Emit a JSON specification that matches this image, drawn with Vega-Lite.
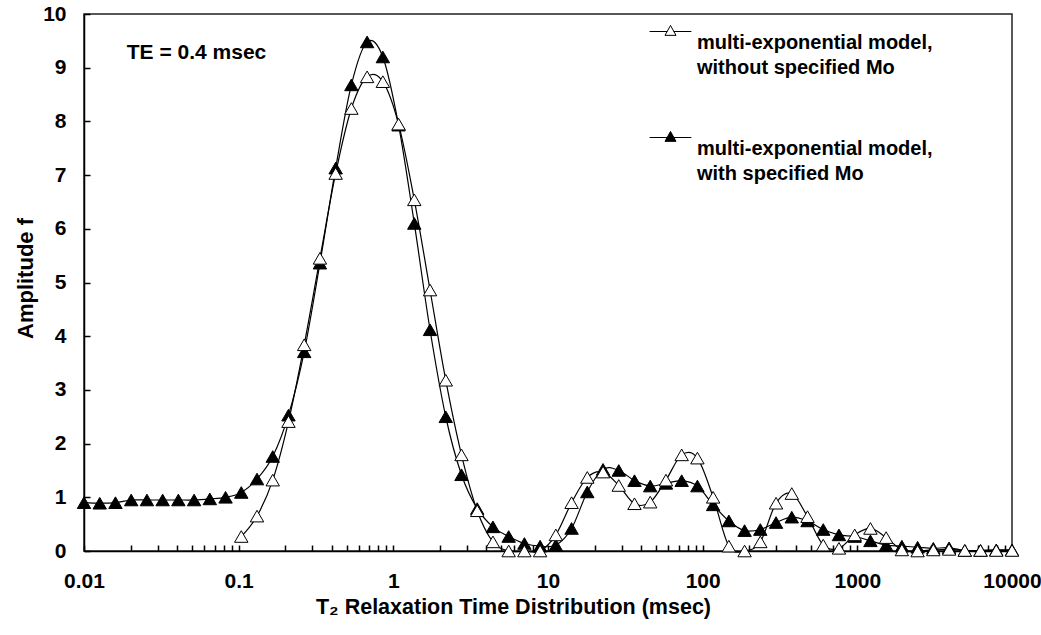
{
  "$schema": "https://vega.github.io/schema/vega-lite/v6.json",
  "width": 928,
  "height": 537,
  "autosize": {"type": "none"},
  "padding": {"left": 84, "top": 14, "right": 29, "bottom": 84},
  "background": "white",
  "config": {
    "font": "Liberation Sans",
    "view": {"stroke": "#222222", "strokeWidth": 1.5},
    "axis": {"domain": true, "domainColor": "black", "domainWidth": 1.5, "ticks": false, "tickSize": 0, "grid": true, "gridColor": "black", "gridWidth": 1.5, "gridOpacity": 1, "labelColor": "black", "labelFont": "Liberation Sans", "labelFontWeight": "bold", "labelFontSize": 21, "titleFont": "Liberation Sans", "titleFontWeight": "bold", "titleFontSize": 21, "titleColor": "black"},
    "style": {"guide-label": {"lineHeight": 25}}
  },
  "datasets": {
    "curves": [
      {"T2": 0.01, "f": 0.9, "s": "with specified Mo"},
      {"T2": 0.012638, "f": 0.89, "s": "with specified Mo"},
      {"T2": 0.015973, "f": 0.9, "s": "with specified Mo"},
      {"T2": 0.020187, "f": 0.95, "s": "with specified Mo"},
      {"T2": 0.025513, "f": 0.95, "s": "with specified Mo"},
      {"T2": 0.032245, "f": 0.95, "s": "with specified Mo"},
      {"T2": 0.040752, "f": 0.95, "s": "with specified Mo"},
      {"T2": 0.051504, "f": 0.95, "s": "with specified Mo"},
      {"T2": 0.065093, "f": 0.97, "s": "with specified Mo"},
      {"T2": 0.082267, "f": 1.0, "s": "with specified Mo"},
      {"T2": 0.10397, "f": 1.09, "s": "with specified Mo"},
      {"T2": 0.13141, "f": 1.34, "s": "with specified Mo"},
      {"T2": 0.16608, "f": 1.76, "s": "with specified Mo"},
      {"T2": 0.2099, "f": 2.53, "s": "with specified Mo"},
      {"T2": 0.26528, "f": 3.71, "s": "with specified Mo"},
      {"T2": 0.33527, "f": 5.36, "s": "with specified Mo"},
      {"T2": 0.42373, "f": 7.13, "s": "with specified Mo"},
      {"T2": 0.53553, "f": 8.68, "s": "with specified Mo"},
      {"T2": 0.67682, "f": 9.48, "s": "with specified Mo"},
      {"T2": 0.85539, "f": 9.2, "s": "with specified Mo"},
      {"T2": 1.0811, "f": 7.93, "s": "with specified Mo"},
      {"T2": 1.3663, "f": 6.1, "s": "with specified Mo"},
      {"T2": 1.7268, "f": 4.12, "s": "with specified Mo"},
      {"T2": 2.1824, "f": 2.5, "s": "with specified Mo"},
      {"T2": 2.7582, "f": 1.42, "s": "with specified Mo"},
      {"T2": 3.4859, "f": 0.79, "s": "with specified Mo"},
      {"T2": 4.4056, "f": 0.45, "s": "with specified Mo"},
      {"T2": 5.568, "f": 0.27, "s": "with specified Mo"},
      {"T2": 7.037, "f": 0.14, "s": "with specified Mo"},
      {"T2": 8.8936, "f": 0.09, "s": "with specified Mo"},
      {"T2": 11.24, "f": 0.11, "s": "with specified Mo"},
      {"T2": 14.206, "f": 0.42, "s": "with specified Mo"},
      {"T2": 17.954, "f": 1.1, "s": "with specified Mo"},
      {"T2": 22.691, "f": 1.52, "s": "with specified Mo"},
      {"T2": 28.677, "f": 1.5, "s": "with specified Mo"},
      {"T2": 36.243, "f": 1.31, "s": "with specified Mo"},
      {"T2": 45.806, "f": 1.21, "s": "with specified Mo"},
      {"T2": 57.891, "f": 1.26, "s": "with specified Mo"},
      {"T2": 73.165, "f": 1.31, "s": "with specified Mo"},
      {"T2": 92.468, "f": 1.21, "s": "with specified Mo"},
      {"T2": 116.87, "f": 0.86, "s": "with specified Mo"},
      {"T2": 147.7, "f": 0.56, "s": "with specified Mo"},
      {"T2": 186.67, "f": 0.38, "s": "with specified Mo"},
      {"T2": 235.92, "f": 0.4, "s": "with specified Mo"},
      {"T2": 298.17, "f": 0.53, "s": "with specified Mo"},
      {"T2": 376.84, "f": 0.63, "s": "with specified Mo"},
      {"T2": 476.26, "f": 0.56, "s": "with specified Mo"},
      {"T2": 601.92, "f": 0.4, "s": "with specified Mo"},
      {"T2": 760.73, "f": 0.3, "s": "with specified Mo"},
      {"T2": 961.44, "f": 0.27, "s": "with specified Mo"},
      {"T2": 1215.1, "f": 0.19, "s": "with specified Mo"},
      {"T2": 1535.7, "f": 0.11, "s": "with specified Mo"},
      {"T2": 1940.9, "f": 0.09, "s": "with specified Mo"},
      {"T2": 2452.9, "f": 0.07, "s": "with specified Mo"},
      {"T2": 3100.1, "f": 0.05, "s": "with specified Mo"},
      {"T2": 3918, "f": 0.06, "s": "with specified Mo"},
      {"T2": 4951.7, "f": 0.01, "s": "with specified Mo"},
      {"T2": 6258.1, "f": 0.01, "s": "with specified Mo"},
      {"T2": 7909.3, "f": 0.02, "s": "with specified Mo"},
      {"T2": 10000, "f": 0.02, "s": "with specified Mo"},
      {"T2": 0.10397, "f": 0.27, "s": "without specified Mo"},
      {"T2": 0.13141, "f": 0.65, "s": "without specified Mo"},
      {"T2": 0.16608, "f": 1.32, "s": "without specified Mo"},
      {"T2": 0.2099, "f": 2.41, "s": "without specified Mo"},
      {"T2": 0.26528, "f": 3.84, "s": "without specified Mo"},
      {"T2": 0.33527, "f": 5.45, "s": "without specified Mo"},
      {"T2": 0.42373, "f": 7.03, "s": "without specified Mo"},
      {"T2": 0.53553, "f": 8.24, "s": "without specified Mo"},
      {"T2": 0.67682, "f": 8.83, "s": "without specified Mo"},
      {"T2": 0.85539, "f": 8.74, "s": "without specified Mo"},
      {"T2": 1.0811, "f": 7.95, "s": "without specified Mo"},
      {"T2": 1.3663, "f": 6.54, "s": "without specified Mo"},
      {"T2": 1.7268, "f": 4.86, "s": "without specified Mo"},
      {"T2": 2.1824, "f": 3.18, "s": "without specified Mo"},
      {"T2": 2.7582, "f": 1.79, "s": "without specified Mo"},
      {"T2": 3.4859, "f": 0.75, "s": "without specified Mo"},
      {"T2": 4.4056, "f": 0.17, "s": "without specified Mo"},
      {"T2": 5.568, "f": 0.0, "s": "without specified Mo"},
      {"T2": 7.037, "f": 0.0, "s": "without specified Mo"},
      {"T2": 8.8936, "f": 0.0, "s": "without specified Mo"},
      {"T2": 11.24, "f": 0.3, "s": "without specified Mo"},
      {"T2": 14.206, "f": 0.9, "s": "without specified Mo"},
      {"T2": 17.954, "f": 1.37, "s": "without specified Mo"},
      {"T2": 22.691, "f": 1.47, "s": "without specified Mo"},
      {"T2": 28.677, "f": 1.22, "s": "without specified Mo"},
      {"T2": 36.243, "f": 0.88, "s": "without specified Mo"},
      {"T2": 45.806, "f": 0.91, "s": "without specified Mo"},
      {"T2": 57.891, "f": 1.32, "s": "without specified Mo"},
      {"T2": 73.165, "f": 1.79, "s": "without specified Mo"},
      {"T2": 92.468, "f": 1.73, "s": "without specified Mo"},
      {"T2": 116.87, "f": 1.0, "s": "without specified Mo"},
      {"T2": 147.7, "f": 0.09, "s": "without specified Mo"},
      {"T2": 186.67, "f": 0.0, "s": "without specified Mo"},
      {"T2": 235.92, "f": 0.17, "s": "without specified Mo"},
      {"T2": 298.17, "f": 0.89, "s": "without specified Mo"},
      {"T2": 376.84, "f": 1.07, "s": "without specified Mo"},
      {"T2": 476.26, "f": 0.64, "s": "without specified Mo"},
      {"T2": 601.92, "f": 0.11, "s": "without specified Mo"},
      {"T2": 760.73, "f": 0.05, "s": "without specified Mo"},
      {"T2": 961.44, "f": 0.3, "s": "without specified Mo"},
      {"T2": 1215.1, "f": 0.42, "s": "without specified Mo"},
      {"T2": 1535.7, "f": 0.25, "s": "without specified Mo"},
      {"T2": 1940.9, "f": 0.02, "s": "without specified Mo"},
      {"T2": 2452.9, "f": 0.0, "s": "without specified Mo"},
      {"T2": 3100.1, "f": 0.02, "s": "without specified Mo"},
      {"T2": 3918, "f": 0.03, "s": "without specified Mo"},
      {"T2": 4951.7, "f": 0.01, "s": "without specified Mo"},
      {"T2": 6258.1, "f": 0.01, "s": "without specified Mo"},
      {"T2": 7909.3, "f": 0.01, "s": "without specified Mo"},
      {"T2": 10000, "f": 0.01, "s": "without specified Mo"}
    ],
    "note": [{"T2": 0.0189, "f": 9.28, "label": "TE = 0.4 msec"}]
  },
  "layer": [
    {
      "data": {"name": "curves"},
      "mark": {"type": "line", "interpolate": "cardinal", "color": "black", "strokeWidth": 1.2},
      "encoding": {
        "x": {
          "field": "T2", "type": "quantitative",
          "scale": {"type": "log", "domain": [0.01, 10000], "nice": false},
          "axis": {
            "values": [0.01,0.02,0.03,0.04,0.05,0.06,0.07,0.08,0.09,0.1,0.2,0.3,0.4,0.5,0.6,0.7,0.8,0.9,1,2,3,4,5,6,7,8,9,10,20,30,40,50,60,70,80,90,100,200,300,400,500,600,700,800,900,1000,2000,3000,4000,5000,6000,7000,8000,9000,10000],
            "format": "~g",
            "labelExpr": "indexof([0.01,0.1,1,10,100,1000,10000], datum.value) >= 0 ? datum.label : ''",
            "labelOverlap": false, "labelFlush": false,
            "labelPadding": 19,
            "gridDash": [0, 531, 6, 3000],
            "title": "T₂  Relaxation Time Distribution (msec)",
            "titleFontSize": 21.5,
            "titleX": 429, "titleY": 56, "titleBaseline": "middle", "titleAlign": "center"
          }
        },
        "y": {
          "field": "f", "type": "quantitative",
          "scale": {"domain": [0, 10], "nice": false},
          "axis": {
            "values": [0,1,2,3,4,5,6,7,8,9,10],
            "labelPadding": 18,
            "gridDash": [6, 3000],
            "title": "Amplitude f",
            "titleFontSize": 22,
            "titleX": -59, "titleY": 264, "titleBaseline": "middle", "titleAlign": "center", "titleAngle": -90
          }
        },
        "detail": {"field": "s", "type": "nominal"}
      }
    },
    {
      "data": {"name": "curves"},
      "mark": {"type": "point", "shape": "triangle-up", "size": 180, "stroke": "black", "strokeWidth": 1, "opacity": 1, "filled": true},
      "encoding": {
        "x": {"field": "T2", "type": "quantitative"},
        "y": {"field": "f", "type": "quantitative"},
        "fill": {
          "field": "s", "type": "nominal",
          "scale": {"domain": ["without specified Mo", "with specified Mo"], "range": ["white", "black"]},
          "legend": {
            "orient": "none", "legendX": 575, "legendY": 17, "title": null, "padding": 0,
            "symbolType": "M-1.9,-1.0H-0.3M0.3,-1.0H1.9M0,-1.55L0.5,-0.65L-0.5,-0.65Z",
            "symbolSize": 484, "symbolStrokeColor": "black", "symbolStrokeWidth": 1,
            "labelExpr": "['multi-exponential model,', datum.label]",
            "labelFont": "Liberation Sans", "labelFontSize": 20, "labelFontWeight": "bold", "labelColor": "black",
            "labelOffset": 15, "rowPadding": 51, "labelLimit": 400
          }
        }
      }
    },
    {
      "data": {"name": "note"},
      "mark": {"type": "text", "align": "left", "baseline": "middle", "fontSize": 21, "fontWeight": "bold", "font": "Liberation Sans", "color": "black"},
      "encoding": {
        "x": {"field": "T2", "type": "quantitative"},
        "y": {"field": "f", "type": "quantitative"},
        "text": {"field": "label"}
      }
    }
  ]
}
